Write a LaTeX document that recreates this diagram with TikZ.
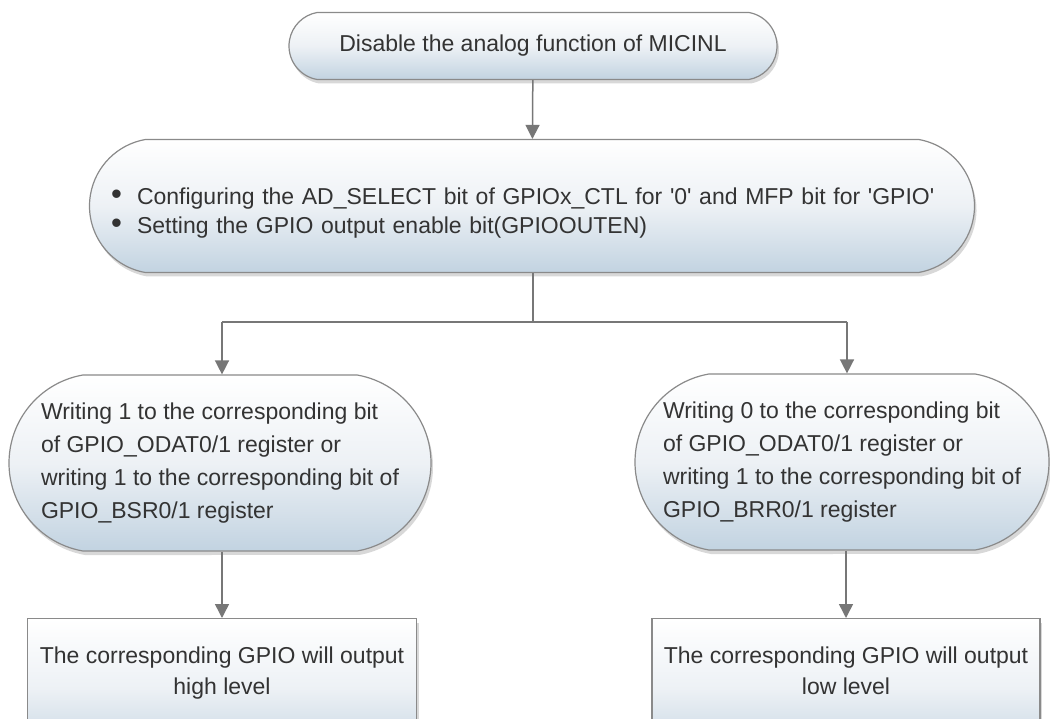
\documentclass[tikz,border=0pt]{standalone}
\usepackage{fontspec}
\setmainfont{Liberation Sans}
\usetikzlibrary{shapes.misc,shadows,arrows.meta}
\definecolor{edgegray}{HTML}{8A8A8A}
\definecolor{linegray}{HTML}{777777}
\definecolor{txtgray}{HTML}{333333}
\definecolor{fillblue}{HTML}{C2D3E1}
\definecolor{fillmid}{HTML}{EDF1F5}
% large round list marker
\newcommand{\listdot}{\makebox[26pt][l]{\scalebox{1.35}{\textbullet}}}
\newcommand{\sq}{\textquotesingle}
\tikzset{
  boxfill/.style={draw=edgegray, line width=1.2pt, top color=white, bottom color=fillblue, middle color=fillmid,
    drop shadow={opacity=0.3, shadow xshift=2pt, shadow yshift=-4pt}},
  pill/.style={boxfill, rounded rectangle, rounded rectangle arc length=160, inner sep=0pt, text=txtgray},
  plainbox/.style={boxfill, rectangle, inner sep=0pt, text=txtgray, align=center},
  flow/.style={draw=linegray, line width=1.5pt, -{Triangle[width=14pt,length=14pt]}},
  link/.style={draw=linegray, line width=1.5pt},
}
\begin{document}
\begin{tikzpicture}[x=1pt,y=-1pt]
\path[use as bounding box, clip] (0,0) rectangle (1050,719);
\fill[white] (0,0) rectangle (1050,719);

\node[pill, minimum width=488pt, minimum height=67pt, font=\fontsize{23}{27}\selectfont]
  (start) at (533,46) {Disable the analog function of MICINL};

\node[pill, minimum width=885pt, minimum height=133pt, align=left, text width=842pt,
  font=\fontsize{23}{29}\selectfont] (cfg) at (532,206)
  {\rule{0pt}{30pt}\listdot Configuring the AD\_SELECT bit of GPIOx\_CTL for \sq0\sq{} and MFP bit for \sq GPIO\sq\\
   \listdot Setting the GPIO output enable bit(GPIOOUTEN)};

\node[pill, minimum width=422pt, minimum height=176pt, align=left,
  font=\fontsize{23}{33}\selectfont] (setone) at (220,463)
  {Writing 1 to the corresponding bit\\
   of GPIO\_ODAT0/1 register or\\
   writing 1 to the corresponding bit of\\
   GPIO\_BSR0/1 register};

\node[pill, minimum width=414pt, minimum height=176pt, align=left,
  font=\fontsize{23}{33}\selectfont] (setzero) at (842,462)
  {Writing 0 to the corresponding bit\\
   of GPIO\_ODAT0/1 register or\\
   writing 1 to the corresponding bit of\\
   GPIO\_BRR0/1 register};

\node[plainbox, minimum width=389pt, minimum height=140pt, anchor=north,
  font=\fontsize{23}{32}\selectfont] (high) at (222,618)
  {\raisebox{36pt}{\shortstack{The corresponding GPIO will output\\[7pt] high level}}};

\node[plainbox, minimum width=388pt, minimum height=140pt, anchor=north,
  font=\fontsize{23}{32}\selectfont] (low) at (846,618)
  {\raisebox{36pt}{\shortstack{The corresponding GPIO will output\\[7pt] low level}}};

\coordinate (split) at (533,322);
\coordinate (splitL) at (222,322);
\coordinate (splitR) at (847,322);

\draw[flow] (start) -- (cfg);
\draw[link] (cfg.south -| split) -- (split);
\draw[link] (splitL) -- (splitR);
\draw[flow] (splitL) -- (splitL |- setone.north);
\draw[flow] (splitR) -- (splitR |- setzero.north);
\draw[flow] (setone.south -| high.north) -- (high.north);
\draw[flow] (setzero.south -| low.north) -- (low.north);
\end{tikzpicture}
\end{document}
